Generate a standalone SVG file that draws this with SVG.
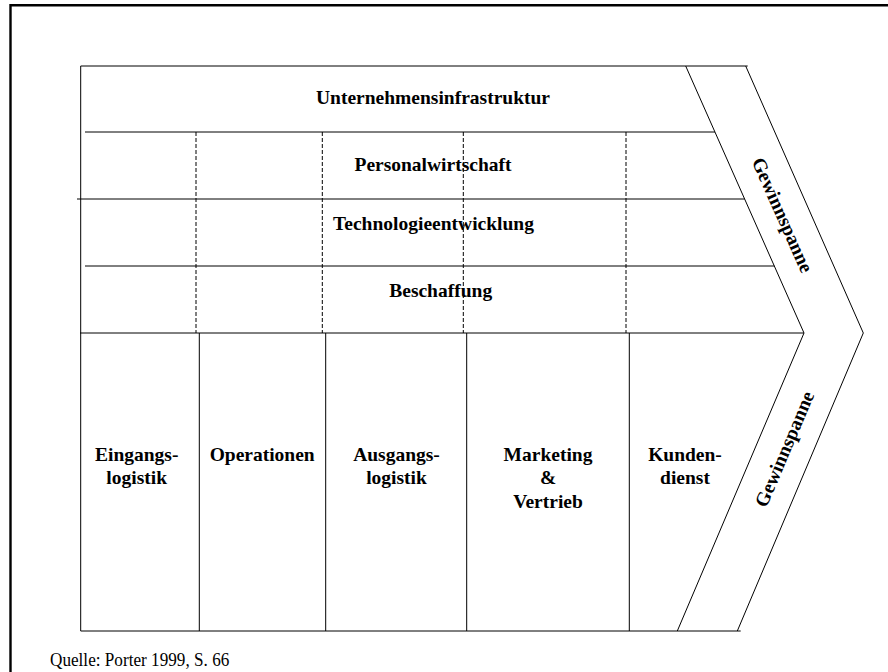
<svg xmlns="http://www.w3.org/2000/svg" width="888" height="672" viewBox="0 0 888 672">
<style>
.ln{stroke:#000;stroke-width:1;fill:none}
.ds{stroke:#000;stroke-width:1;fill:none;stroke-dasharray:4 2}
.lb{font-family:"Liberation Serif","Times New Roman",serif;font-weight:bold;font-size:19.5px;fill:#000;text-anchor:middle}
.src{font-family:"Liberation Serif","Times New Roman",serif;font-size:18.5px;fill:#000}
</style>
<rect width="888" height="672" fill="#fff"/>
<g id="frame">
<path d="M10.5 672 V5.3 H888" stroke="#000" stroke-width="2.4" fill="none"/>
</g>
<g id="connectors">
<path class="ln" d="M80.7 66 H747.7"/>
<path class="ln" d="M85 132 H715"/>
<path class="ln" d="M77 199 H744.7"/>
<path class="ln" d="M85 266 H774.4"/>
<path class="ln" d="M80 333 H804"/>
<path class="ln" d="M80.7 631 H740.7"/>
<path class="ln" d="M80.7 66 V631"/>
<path class="ds" d="M196 132 V333 M322.3 132 V333 M463.3 132 V333 M626 132 V333"/>
<path class="ln" d="M199.3 333 V631 M325.7 333 V631 M466.7 333 V631 M629.3 333 V631"/>
</g>
<g id="margin">
<path class="ln" d="M685.7 66 L804 333 L677.3 631"/>
<path class="ln" d="M745.7 66 L863.3 333 L737.3 631"/>
<text class="lb" transform="translate(782.5 215) rotate(66)" y="6.5">Gewinnspanne</text>
<text class="lb" transform="translate(784.5 449) rotate(-67)" y="6.5">Gewinnspanne</text>
</g>
<g id="infrastruktur"><text class="lb" x="433" y="104">Unternehmensinfrastruktur</text></g>
<g id="personal"><text class="lb" x="433" y="171">Personalwirtschaft</text></g>
<g id="technologie"><text class="lb" x="433.5" y="230">Technologieentwicklung</text></g>
<g id="beschaffung"><text class="lb" x="440.7" y="297">Beschaffung</text></g>
<g id="eingangslogistik"><text class="lb" x="136.7" y="460.7">Eingangs-</text><text class="lb" x="136.7" y="484">logistik</text></g>
<g id="operationen"><text class="lb" x="262.2" y="460.7">Operationen</text></g>
<g id="ausgangslogistik"><text class="lb" x="396.5" y="460.7">Ausgangs-</text><text class="lb" x="396.5" y="484">logistik</text></g>
<g id="marketing"><text class="lb" x="548" y="460.7">Marketing</text><text class="lb" x="548" y="484">&amp;</text><text class="lb" x="548" y="508.3">Vertrieb</text></g>
<g id="kundendienst"><text class="lb" x="685" y="460.7">Kunden-</text><text class="lb" x="685" y="484">dienst</text></g>
<g id="quelle"><text class="src" x="50" y="666" textLength="179.3" lengthAdjust="spacingAndGlyphs">Quelle: Porter 1999, S. 66</text></g>
</svg>
